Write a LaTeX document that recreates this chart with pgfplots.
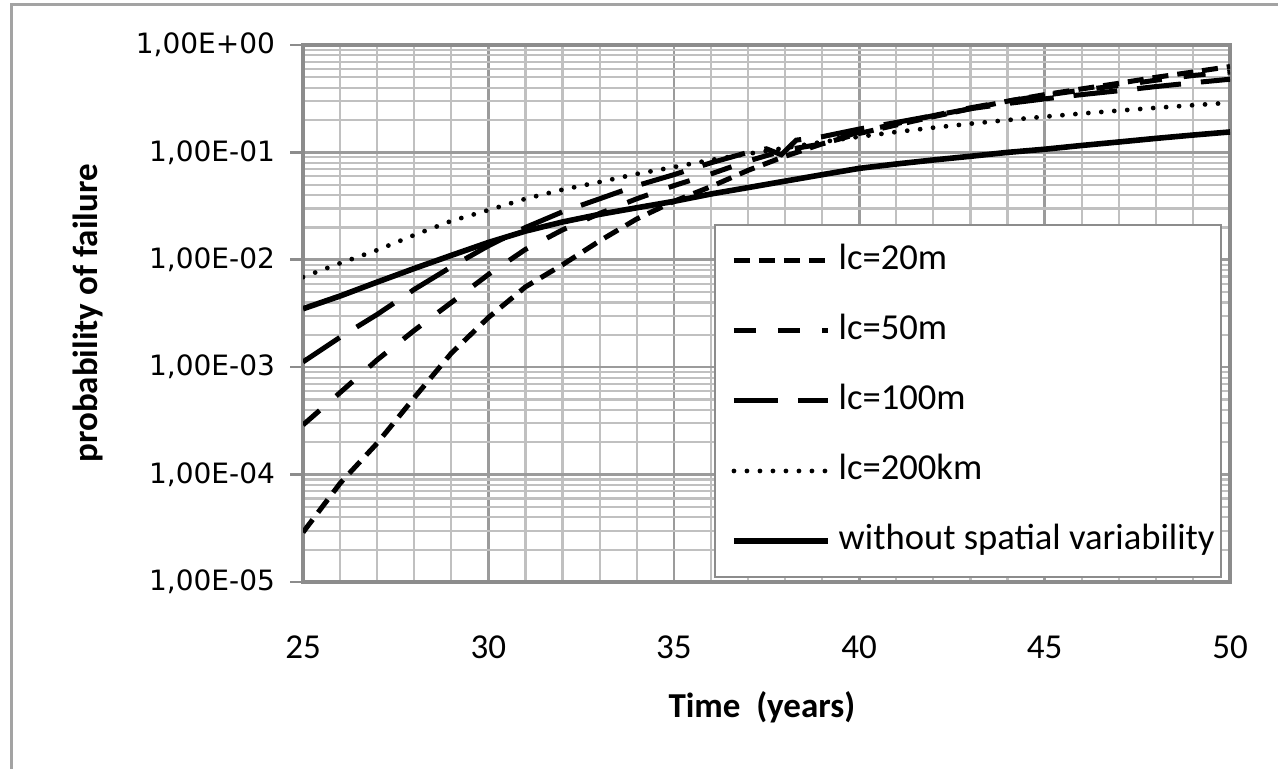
\documentclass[border=0pt]{standalone}
\usepackage{fontspec}
\setmainfont{Carlito}
\newfontfamily\dejavu{DejaVu Sans}
\usepackage{pgfplots}
\pgfplotsset{compat=1.18}
\usepackage{pgfplotstable}

\definecolor{minorgrid}{RGB}{192,192,192}
\definecolor{majorgrid}{RGB}{155,155,155}
\definecolor{axiscol}{RGB}{140,140,140}

% probability of failure
\pgfplotstableread{
t p
25 2.9e-5
26 8.3e-5
27 1.96e-4
28 5.2e-4
29 1.35e-3
30 2.9e-3
31 5.6e-3
32 9.0e-3
33 1.5e-2
34 2.4e-2
35 3.5e-2
36 4.8e-2
37 6.8e-2
38 9.2e-2
39 1.2e-1
40 1.5e-1
41 1.8e-1
42 2.15e-1
43 2.55e-1
44 3.0e-1
45 3.45e-1
46 3.9e-1
47 4.4e-1
48 5.0e-1
49 5.6e-1
50 6.3e-1
}\lctwenty

\pgfplotstableread{
t p
25 2.9e-4
26 5.8e-4
27 1.17e-3
28 2.2e-3
29 4.0e-3
30 7.3e-3
31 1.25e-2
32 1.9e-2
33 2.7e-2
34 3.7e-2
35 4.9e-2
36 6.3e-2
37 8.3e-2
38 1.05e-1
39 1.2e-1
40 1.55e-1
41 1.85e-1
42 2.2e-1
43 2.6e-1
44 3.0e-1
45 3.4e-1
46 3.8e-1
47 4.2e-1
48 4.7e-1
49 5.2e-1
50 5.6e-1
}\lcfifty

\pgfplotstableread{
t p
25 1.12e-3
26 1.9e-3
27 3.1e-3
28 5.3e-3
29 8.6e-3
30 1.35e-2
31 2.0e-2
32 2.8e-2
33 3.7e-2
34 4.9e-2
35 6.2e-2
36 8.0e-2
37 1.0e-1
37.5 1.08e-1
37.9 9.5e-2
38.3 1.3e-1
39 1.4e-1
40 1.65e-1
41 1.9e-1
42 2.2e-1
43 2.55e-1
44 2.85e-1
45 3.15e-1
46 3.45e-1
47 3.75e-1
48 4.1e-1
49 4.45e-1
50 4.8e-1
}\lchundred

\pgfplotstableread{
t p
25 6.9e-3
26 9.3e-3
27 1.23e-2
28 1.7e-2
29 2.3e-2
30 2.9e-2
31 3.7e-2
32 4.5e-2
33 5.3e-2
34 6.3e-2
35 7.3e-2
36 8.5e-2
37 9.7e-2
38 1.1e-1
39 1.25e-1
40 1.4e-1
41 1.55e-1
42 1.7e-1
43 1.85e-1
44 2.0e-1
45 2.15e-1
46 2.3e-1
47 2.45e-1
48 2.6e-1
49 2.75e-1
50 2.9e-1
}\lckm

\pgfplotstableread{
t p
25 3.5e-3
26 4.6e-3
27 6.2e-3
28 8.3e-3
29 1.1e-2
30 1.45e-2
31 1.85e-2
32 2.25e-2
33 2.65e-2
34 3.05e-2
35 3.5e-2
36 4.1e-2
37 4.7e-2
38 5.4e-2
39 6.2e-2
40 7.1e-2
41 7.8e-2
42 8.5e-2
43 9.2e-2
44 1.0e-1
45 1.07e-1
46 1.16e-1
47 1.25e-1
48 1.35e-1
49 1.45e-1
50 1.55e-1
}\nospatial

\begin{document}
\begin{tikzpicture}
\useasboundingbox (0,0) rectangle (639pt,384.5pt);
\draw[axiscol!80, line width=1.5pt] (5.5pt,0) -- (5.5pt,382pt) -- (639pt,382pt);
\begin{axis}[
    at={(151.5pt,93.5pt)}, anchor=south west,
    scale only axis, width=463.5pt, height=268.5pt,
    xmin=25, xmax=50,
    ymode=log, ymin=1e-5, ymax=1,
    xtick={25,30,35,40,45,50},
    xticklabels={25,30,35,40,45,50},
    minor xtick={26,27,28,29,31,32,33,34,36,37,38,39,41,42,43,44,46,47,48,49},
    ytick={1e-5,1e-4,1e-3,1e-2,1e-1,1},
    yticklabels={{1,00E-05},{1,00E-04},{1,00E-03},{1,00E-02},{1,00E-01},{1,00E+00}},
    minor ytick={2e-5,3e-5,4e-5,5e-5,6e-5,7e-5,8e-5,9e-5,
                 2e-4,3e-4,4e-4,5e-4,6e-4,7e-4,8e-4,9e-4,
                 2e-3,3e-3,4e-3,5e-3,6e-3,7e-3,8e-3,9e-3,
                 2e-2,3e-2,4e-2,5e-2,6e-2,7e-2,8e-2,9e-2,
                 0.2,0.3,0.4,0.5,0.6,0.7,0.8,0.9},
    grid=both,
    major grid style={majorgrid, line width=1.3pt},
    minor grid style={minorgrid, line width=1.1pt},
    axis line style={axiscol, line width=1.9pt},
    tick align=outside, ytick pos=left,
    major tick length=6.5pt, minor tick length=0pt,
    ytick style={axiscol, line width=1.3pt},
    xtick style={draw=none},
    xticklabel style={font=\fontsize{17.5}{20}\selectfont, yshift=-17pt},
    yticklabel style={font=\dejavu\fontsize{14}{16}\selectfont, xshift=-4pt},
    xlabel={\bfseries Time\ \ (years)},
    ylabel={\bfseries probability of failure},
    xlabel style={font=\fontsize{17.5}{20}\selectfont, at={(axis description cs:0.495,-0.233)}, anchor=center},
    ylabel style={font=\fontsize{17.5}{20}\selectfont, at={(axis description cs:-0.232,0.5)}, anchor=center},
    legend cell align=left,
    legend image code/.code={\path (0pt,0pt); \draw[#1] (5pt,0pt) -- (52pt,0pt);},
    legend style={at={(0.991,0.0075)}, anchor=south east,
        draw=axiscol, line width=1pt, fill=white,
        font=\fontsize{18.3}{21}\selectfont,
        inner xsep=3pt, inner ysep=8pt, row sep=15pt, column sep=4pt,
        nodes={inner xsep=0pt, inner ysep=2pt, text height=12.5pt, text depth=3.5pt}},
]
\addplot[black, line width=2.5pt, line cap=butt, dash pattern=on 8pt off 4.5pt] table[x=t, y=p] {\lctwenty};
\addlegendentry{lc=20m}
\addplot[black, line width=2.5pt, line cap=butt, dash pattern=on 11pt off 11pt] table[x=t, y=p] {\lcfifty};
\addlegendentry{lc=50m}
\addplot[black, line width=2.5pt, line cap=butt, dash pattern=on 22pt off 10pt] table[x=t, y=p] {\lchundred};
\addlegendentry{lc=100m}
\addplot[black, line width=2.4pt, line cap=round, dash pattern=on 0pt off 6.5pt] table[x=t, y=p] {\lckm};
\addlegendentry{lc=200km}
\addplot[black, line width=2.8pt] table[x=t, y=p] {\nospatial};
\addlegendentry{without spatial variability}
\end{axis}
\end{tikzpicture}
\end{document}
